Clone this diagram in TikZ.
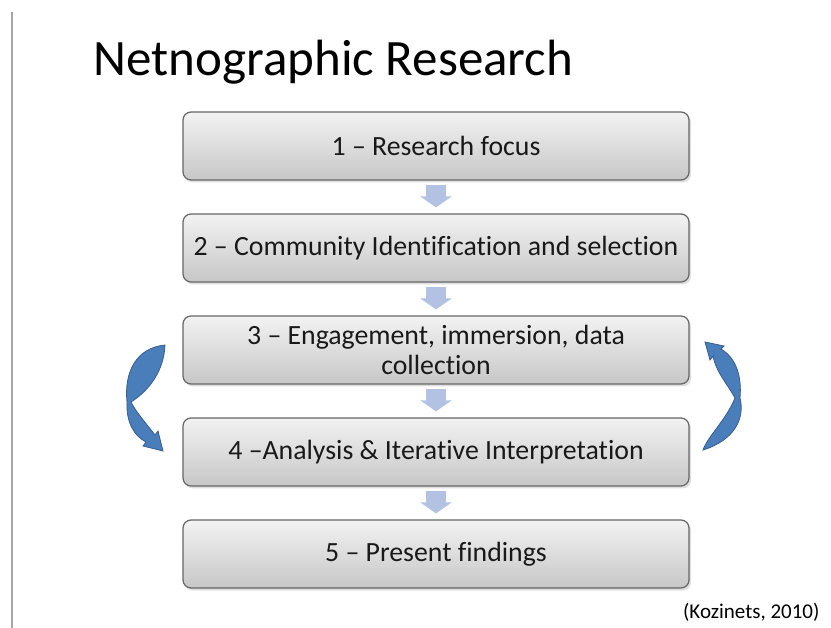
\documentclass[tikz,border=0pt]{standalone}
\usepackage{fontspec}
\setmainfont[Ligatures=NoCommon]{Carlito}
\usetikzlibrary{arrows.meta,shadows}

\definecolor{flowblue}{HTML}{B3C2E3}
\definecolor{loopblue}{HTML}{4A7EBB}

\tikzset{
	stagebox/.style={draw=black!60, line width=1.2pt, rounded corners=8pt,
		top color=black!5, bottom color=black!22,
		minimum width=506pt, minimum height=68pt, align=center,
		font=\fontsize{27.8}{30}\selectfont, text=black!90,
		drop shadow={shadow xshift=2pt, shadow yshift=-2.5pt, opacity=0.25}},
	flowarrow/.style={draw=flowblue, line width=20pt,
		-{Triangle[width=31pt,length=11pt]}},
	backarrow/.style={fill=loopblue, draw=loopblue!75!black, line width=0.8pt}
}

\begin{document}
\begin{tikzpicture}[x=1pt,y=-1pt]
	\useasboundingbox[fill=white] (0,0) rectangle (831,628);
\draw[black!35,line width=1.5pt] (12,12) -- (12,628);

\node[anchor=base west,font=\fontsize{51}{60}\selectfont] (title) at (90,76) {Netnographic Research};

\node[stagebox] (s1) at (436,146) {1 – Research focus};
\node[stagebox] (s2) at (436,248) {2 – Community Identification and selection};
\node[stagebox] (s3) at (436,350) {3 – Engagement, immersion, data\\collection};
\node[stagebox] (s4) at (436,452) {4 –Analysis \& Iterative Interpretation};
\node[stagebox] (s5) at (436,554) {5 – Present findings};

\draw[flowarrow] ([yshift=-4pt]s1.south) -- ([yshift=6pt]s2.north);
\draw[flowarrow] ([yshift=-4pt]s2.south) -- ([yshift=6pt]s3.north);
\draw[flowarrow] ([yshift=-4pt]s3.south) -- ([yshift=6pt]s4.north);
\draw[flowarrow] ([yshift=-4pt]s4.south) -- ([yshift=6pt]s5.north);

\path[backarrow] (165,345) .. controls (136,348) and (124,372) .. (127,402) .. controls (126,422) and (134,436) .. (146,442) -- (143,446) -- (163,451) -- (158,431) -- (155,435) .. controls (145,422) and (136,412) .. (131,402) .. controls (150,390) and (164,370) .. (165,345) -- cycle;
\path[backarrow] (703,450) .. controls (735,440) and (745,418) .. (740,398) .. controls (742,376) and (736,358) .. (721,349) -- (724,346) -- (705,342) -- (710,360) -- (713,356) .. controls (716,372) and (728,385) .. (735,398) .. controls (726,420) and (708,436) .. (703,450) -- cycle;

\node[anchor=base east,font=\fontsize{21}{24}\selectfont] (cite) at (823,618) {(Kozinets, 2010)};

\end{tikzpicture}
\end{document}
